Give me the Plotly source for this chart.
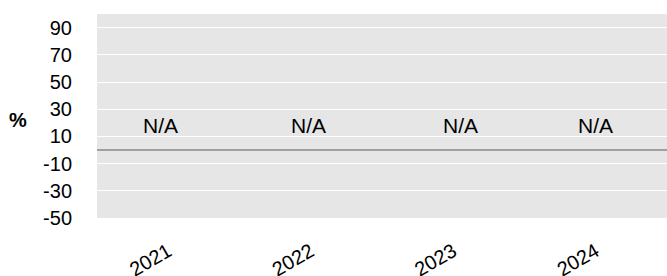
import plotly.graph_objects as go

categories = ["2021", "2022", "2023", "2024"]
values = [None, None, None, None]
label_text = ["N/A", "N/A", "N/A", "N/A"]
label_y = [18, 18, 18, 18]
y_ticks = [90, 70, 50, 30, 10, -10, -30, -50]

FONT = "Liberation Sans, Arial, sans-serif"
label_nudge = [-8, -2, 7, 0]  # small horizontal pixel nudges of the N/A labels

fig = go.Figure()
fig.add_trace(go.Bar(x=categories, y=values, marker_color="#4472c4", showlegend=False))

# Annotations on a category axis use the category's serial number.
annotations = [
    dict(text=t, x=i, y=v, xref="x", yref="y", xshift=dx, showarrow=False,
         xanchor="center", yanchor="middle",
         font=dict(family=FONT, size=21, color="#000000"))
    for i, (v, t, dx) in enumerate(zip(label_y, label_text, label_nudge))
]
annotations.append(dict(text="<b>%</b>", xref="paper", yref="paper",
                        x=(18 - 97) / 570, y=(218 - 120) / 204,
                        xanchor="center", yanchor="middle", showarrow=False,
                        font=dict(family=FONT, size=20, color="#000000")))

fig.update_layout(
    width=667, height=276,
    margin=dict(l=97, r=0, t=14, b=58),
    paper_bgcolor="#ffffff",
    plot_bgcolor="#e6e6e6",
    font=dict(family=FONT, size=20, color="#000000"),
    xaxis=dict(type="category", categoryorder="array", categoryarray=categories,
               range=[-0.5, 3.5],
               showgrid=False, zeroline=False, showline=False, automargin=False,
               tickangle=-30, tickfont=dict(family=FONT, size=20),
               ticks="outside", ticklen=13, tickcolor="rgba(0,0,0,0)"),
    yaxis=dict(range=[-50, 100], tickvals=y_ticks, ticktext=[str(v) for v in y_ticks],
               showgrid=True, gridcolor="#ffffff", gridwidth=1, automargin=False,
               zeroline=True, zerolinecolor="#a0a0a0", zerolinewidth=2,
               showline=False, ticklabelstandoff=24,
               tickfont=dict(family=FONT, size=20)),
    annotations=annotations,
)

fig.write_html("out.html", config={"displayModeBar": False},
               post_script="document.body.style.margin='0';document.body.style.overflow='hidden';")
